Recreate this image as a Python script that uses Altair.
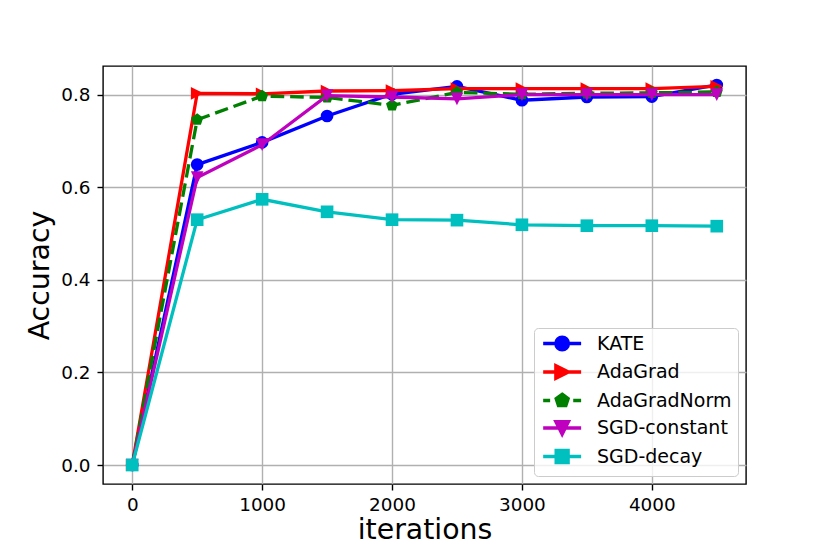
import altair as alt
import pandas as pd

iterations = [0, 500, 1000, 1500, 2000, 2500, 3000, 3500, 4000, 4500]
series_names = ["KATE", "AdaGrad", "AdaGradNorm", "SGD-constant", "SGD-decay"]
kate = [0.0, 0.649, 0.697, 0.754, 0.801, 0.818, 0.788, 0.795, 0.796, 0.821]
adagrad = [0.0, 0.803, 0.802, 0.808, 0.809, 0.813, 0.813, 0.813, 0.813, 0.818]
adagradnorm = [0.0, 0.746, 0.797, 0.794, 0.777, 0.805, 0.801, 0.803, 0.804, 0.806]
sgd_constant = [0.0, 0.621, 0.692, 0.798, 0.795, 0.791, 0.800, 0.800, 0.800, 0.800]
sgd_decay = [0.0, 0.530, 0.574, 0.547, 0.530, 0.529, 0.519, 0.517, 0.517, 0.516]
colors = ["#0000ff", "#ff0000", "#008000", "#bf00bf", "#00bfbf"]
x_ticks = [0, 1000, 2000, 3000, 4000]
y_ticks = [0.0, 0.2, 0.4, 0.6, 0.8]

all_values = [kate, adagrad, adagradnorm, sgd_constant, sgd_decay]
rows = []
for name, vals in zip(series_names, all_values):
    for it, v in zip(iterations, vals):
        rows.append({"iterations": it, "Accuracy": v, "series": name})
df = pd.DataFrame(rows)

FONT = "DejaVu Sans"
PENT = "M0,-1L0.951,-0.309L0.588,0.809L-0.588,0.809L-0.951,-0.309Z"
plot_shapes = ["circle", "M1,0L-1,-1L-1,1Z", PENT, "M0,1L-1,-1L1,-1Z", "square"]
dashed = [False, False, True, False, False]

# legend handles: marker centred at cx, line from cx-3 to cx+3
cx = 2.0
leg_circle = f"M{cx-1},0A1,1 0 1,0 {cx+1},0A1,1 0 1,0 {cx-1},0Z"
leg_tri_r = f"M{cx+1},0L{cx-1},-1L{cx-1},1Z"
leg_pent = f"M{cx},-1L{cx+0.951},-0.309L{cx+0.588},0.809L{cx-0.588},0.809L{cx-0.951},-0.309Z"
leg_tri_d = f"M{cx},1L{cx-1},-1L{cx+1},-1Z"
leg_sq = f"M{cx-0.95},-0.95H{cx+0.95}V0.95H{cx-0.95}Z"
solid_line = f"M{cx-3},0H{cx+3}"
dash_line = f"M{cx-3},0H{cx-1.9}M{cx+1.75},0H{cx+3}"
leg_paths = [
    solid_line + leg_circle,
    solid_line + leg_tri_r,
    dash_line + leg_pent,
    solid_line + leg_tri_d,
    solid_line + leg_sq,
]

legend = alt.Legend(
    title=None,
    orient="bottom-right",
    offset=8,
    padding=6,
    fillColor="rgba(255,255,255,0.8)",
    strokeColor="#cccccc",
    cornerRadius=4,
    labelFont=FONT,
    labelFontSize=19,
    labelColor="black",
    labelOffset=38,
    rowPadding=1.5,
    symbolSize=160,
    symbolStrokeWidth=3.3,
    symbolOpacity=1,
)

x_enc = alt.X(
    "iterations:Q",
    scale=alt.Scale(domain=[-225, 4725], nice=False, zero=False),
    axis=alt.Axis(values=x_ticks, title="iterations", format="d"),
)
y_enc = alt.Y(
    "Accuracy:Q",
    scale=alt.Scale(domain=[-0.041, 0.862], nice=False, zero=False),
    axis=alt.Axis(values=y_ticks, title="Accuracy", format=".1f"),
)

layers = []
for name, col, shp, dsh in zip(series_names, colors, plot_shapes, dashed):
    base = alt.Chart(df).transform_filter(alt.datum.series == name)
    line_kwargs = dict(x=x_enc, y=y_enc, color=alt.value(col))
    if dsh:
        line_kwargs["strokeDash"] = alt.value([13.6, 5.9])
    line = base.mark_line(strokeWidth=3.3).encode(**line_kwargs)
    pts = base.mark_point(filled=True, size=160, opacity=1, shape=shp).encode(
        x=x_enc, y=y_enc, color=alt.value(col)
    )
    layers += [line, pts]

# legend-only layer (no rows survive the filter; legend built from scale domains)
legend_layer = alt.Chart(df).transform_filter("false").mark_point(
    opacity=1, strokeWidth=3.3, size=160
).encode(
    x=x_enc,
    y=y_enc,
    fill=alt.Fill("series:N", scale=alt.Scale(domain=series_names, range=colors), legend=legend),
    stroke=alt.Stroke("series:N", scale=alt.Scale(domain=series_names, range=colors), legend=legend),
    shape=alt.Shape("series:N", scale=alt.Scale(domain=series_names, range=leg_paths), legend=legend),
)
layers.append(legend_layer)

chart = alt.layer(*layers).properties(
    width=643,
    height=418,
    autosize=alt.AutoSizeParams(type="none"),
    padding={"left": 95, "top": 58, "right": 76, "bottom": 62},
).configure_view(
    stroke="black", strokeWidth=1.4
).configure_axis(
    domain=False,
    grid=True,
    gridColor="#b0b0b0",
    gridWidth=1.4,
    tickColor="black",
    tickWidth=1.4,
    tickSize=6,
    labelFont=FONT,
    labelFontSize=18.4,
    labelColor="black",
    titleFont=FONT,
    titleFontSize=28.4,
    titleFontWeight="normal",
    titleColor="black",
).configure_axisX(
    labelPadding=5, titlePadding=3
).configure_axisY(
    labelPadding=7, titlePadding=6
)

chart.save("out.html", embed_options={"renderer": "svg", "actions": False})
